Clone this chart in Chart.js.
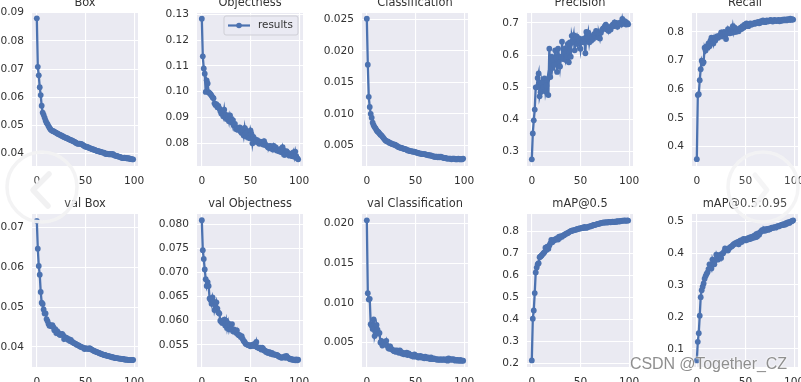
<!DOCTYPE html>
<html>
<head>
<meta charset="utf-8">
<title>results</title>
<script src="https://cdn.jsdelivr.net/npm/chart.js@4"></script>
<style>
    html, body { margin: 0; padding: 0; background: #fff; overflow: hidden; width: 801px; height: 382px; }
    canvas { position: absolute; filter: blur(0.45px); }
    #marks { position: absolute; left: 0; top: 0; }
    #credit {
        position: absolute; left: 630px; top: 355px; white-space: nowrap;
        font: 16px "Liberation Sans", sans-serif; letter-spacing: -0.1px; color: #8f8f8f;
        text-shadow: 0 0 2px #fff, 0 0 2px #fff;
    }
</style>
</head>
<body>
<svg id="marks" width="801" height="382">
    <circle cx="42" cy="187" r="35" fill="rgba(255,255,255,0.12)" stroke="rgba(242,242,243,0.92)" stroke-width="3.5"/>
    <polyline points="49,174 33,190 48,206" fill="none" stroke="rgba(240,240,241,0.95)" stroke-width="5.5" stroke-linecap="round" stroke-linejoin="round"/>
    <circle cx="763" cy="187" r="35" fill="rgba(255,255,255,0.12)" stroke="rgba(243,243,244,0.9)" stroke-width="3.5"/>
    <polyline points="755,175 767,190 755,205" fill="none" stroke="rgba(243,243,244,0.85)" stroke-width="5" stroke-linecap="round" stroke-linejoin="round"/>
</svg>
<div id="credit">CSDN @Together_CZ</div>

<script>
const epochs = Array.from({ length: 100 }, (_, i) => i);
const xTicks = [0, 50, 100];

const box = [
    .0880,.0708,.0678,.0636,.0608,.0570,.0546,.0538,.0528,.0518,
    .0510,.0505,.0498,.0492,.0487,.0483,.0481,.0480,.0478,.0476,
    .0474,.0472,.0470,.0468,.0467,.0465,.0463,.0461,.0459,.0458,
    .0456,.0455,.0453,.0451,.0450,.0448,.0447,.0445,.0443,.0442,
    .0439,.0437,.0435,.0435,.0436,.0435,.0434,.0432,.0429,.0427,
    .0425,.0425,.0423,.0422,.0420,.0419,.0418,.0416,.0415,.0414,
    .0413,.0411,.0410,.0409,.0408,.0407,.0406,.0405,.0404,.0404,
    .0401,.0399,.0400,.0399,.0398,.0398,.0399,.0397,.0399,.0396,
    .0394,.0393,.0392,.0391,.0390,.0389,.0388,.0386,.0385,.0384,
    .0386,.0384,.0385,.0383,.0384,.0383,.0381,.0382,.0380,.0380
];
const objectness = [
    .1283,.1137,.1090,.1070,.0999,.1044,.1032,.0998,.0994,.0990,
    .0985,.0978,.0975,.0955,.0948,.0952,.0940,.0945,.0935,.0925,
    .0915,.0920,.0905,.0930,.0900,.0910,.0893,.0905,.0885,.0908,
    .0895,.0880,.0890,.0870,.0875,.0855,.0860,.0852,.0858,.0862,
    .0845,.0840,.0850,.0830,.0860,.0835,.0825,.0845,.0828,.0820,
    .0850,.0835,.0800,.0825,.0805,.0815,.0808,.0812,.0803,.0798,
    .0806,.0800,.0805,.0795,.0808,.0798,.0792,.0790,.0785,.0782,
    .0790,.0780,.0788,.0776,.0790,.0778,.0784,.0772,.0775,.0770,
    .0768,.0778,.0765,.0785,.0772,.0755,.0762,.0770,.0765,.0758,
    .0752,.0760,.0755,.0750,.0765,.0748,.0768,.0750,.0742,.0738
];
const classification = [
    .0251,.0178,.0127,.0111,.0100,.0094,.0086,.0082,.0079,.0077,
    .0074,.0072,.0071,.0069,.0067,.0066,.0064,.0062,.0060,.0058,
    .0057,.0056,.0056,.0054,.0054,.0053,.0052,.0052,.0051,.0051,
    .0050,.0049,.0048,.0047,.0047,.0046,.0046,.0045,.0045,.0044,
    .0044,.0043,.0042,.0042,.0041,.0041,.0041,.0040,.0040,.0040,
    .0039,.0039,.0038,.0038,.0037,.0037,.0037,.0036,.0036,.0036,
    .0036,.0035,.0035,.0035,.0034,.0034,.0034,.0033,.0033,.0032,
    .0032,.0032,.0032,.0031,.0032,.0031,.0032,.0031,.0031,.0030,
    .0030,.0030,.0029,.0029,.0029,.0029,.0029,.0028,.0029,.0029,
    .0029,.0028,.0028,.0028,.0029,.0028,.0028,.0028,.0028,.0029
];
const precision = [
    .2762,.3567,.3975,.4310,.5000,.5000,.5290,.5430,.4720,.4850,
    .5150,.4950,.5000,.5280,.4870,.5050,.5250,.4760,.6200,.5320,
    .5950,.5600,.5850,.5700,.6150,.5900,.5480,.6200,.5950,.5650,
    .5950,.6420,.5880,.6100,.6200,.5850,.5950,.6350,.5780,.6400,
    .5950,.6600,.6450,.6620,.6150,.6500,.6580,.6350,.6530,.6450,
    .6200,.6500,.6450,.6400,.6520,.6060,.6720,.6520,.6700,.6400,
    .6600,.6450,.6550,.6500,.6650,.6600,.6750,.6700,.6550,.6650,
    .6520,.6700,.6780,.6820,.6850,.6900,.6950,.6800,.6880,.6750,
    .6850,.6800,.6900,.6950,.6900,.7020,.6950,.7000,.6880,.6950,
    .6980,.7020,.6950,.7130,.7000,.6980,.7050,.6950,.7000,.6960
];
const recall = [
    .3566,.5800,.5830,.6320,.6700,.7000,.6900,.6950,.7450,.7350,
    .7500,.7450,.7600,.7500,.7700,.7800,.7750,.7600,.7800,.7700,
    .7780,.7850,.7800,.7850,.7900,.7980,.7850,.7950,.8000,.7950,
    .7750,.7950,.8100,.8000,.7950,.8050,.7980,.8200,.8000,.8150,
    .8000,.8050,.8100,.8020,.8100,.8150,.8100,.8200,.8150,.8250,
    .8200,.8300,.8250,.8200,.8280,.8300,.8250,.8280,.8300,.8280,
    .8320,.8300,.8320,.8350,.8300,.8320,.8380,.8350,.8400,.8380,
    .8340,.8360,.8400,.8360,.8380,.8400,.8420,.8380,.8360,.8400,
    .8420,.8390,.8380,.8400,.8420,.8370,.8410,.8390,.8430,.8400,
    .8440,.8420,.8400,.8450,.8430,.8420,.8460,.8420,.8450,.8430
];
const valBox = [
    .0716,.0646,.0603,.0581,.0538,.0511,.0508,.0494,.0484,.0484,
    .0470,.0465,.0458,.0453,.0455,.0452,.0455,.0450,.0442,.0445,
    .0435,.0440,.0436,.0432,.0430,.0432,.0433,.0430,.0420,.0425,
    .0423,.0422,.0418,.0420,.0415,.0418,.0413,.0412,.0410,.0409,
    .0408,.0406,.0405,.0404,.0402,.0401,.0400,.0399,.0398,.0395,
    .0397,.0396,.0396,.0395,.0397,.0396,.0394,.0393,.0391,.0390,
    .0389,.0388,.0387,.0386,.0385,.0384,.0383,.0382,.0381,.0380,
    .0380,.0379,.0378,.0378,.0377,.0376,.0376,.0375,.0374,.0374,
    .0373,.0372,.0372,.0372,.0371,.0371,.0371,.0370,.0370,.0370,
    .0369,.0368,.0369,.0368,.0368,.0367,.0367,.0368,.0367,.0368
];
const valObjectness = [
    .0808,.0746,.0728,.0706,.0686,.0672,.0680,.0672,.0646,.0643,
    .0635,.0648,.0640,.0622,.0630,.0638,.0625,.0617,.0615,.0600,
    .0598,.0595,.0598,.0602,.0590,.0600,.0585,.0595,.0582,.0590,
    .0582,.0593,.0578,.0582,.0578,.0575,.0580,.0572,.0570,.0570,
    .0566,.0568,.0562,.0558,.0556,.0552,.0551,.0550,.0549,.0549,
    .0547,.0550,.0548,.0548,.0552,.0547,.0556,.0545,.0544,.0543,
    .0544,.0540,.0544,.0542,.0538,.0538,.0535,.0536,.0533,.0535,
    .0534,.0531,.0533,.0530,.0530,.0530,.0529,.0529,.0528,.0526,
    .0525,.0524,.0523,.0524,.0524,.0526,.0523,.0527,.0524,.0523,
    .0521,.0520,.0521,.0519,.0519,.0519,.0518,.0520,.0518,.0519
];
const valClassification = [
    .0204,.0112,.0104,.0105,.0073,.0071,.0067,.0079,.0058,.0063,
    .0072,.0066,.0061,.0062,.0050,.0052,.0046,.0048,.0050,.0048,
    .0052,.0046,.0043,.0042,.0045,.0042,.0041,.0040,.0039,.0040,
    .0038,.0040,.0039,.0037,.0040,.0038,.0036,.0037,.0035,.0036,
    .0035,.0037,.0034,.0036,.0035,.0034,.0033,.0034,.0032,.0035,
    .0033,.0032,.0033,.0031,.0032,.0033,.0031,.0032,.0031,.0030,
    .0032,.0031,.0030,.0031,.0030,.0029,.0031,.0029,.0029,.0030,
    .0029,.0029,.0028,.0029,.0028,.0028,.0029,.0028,.0028,.0029,
    .0028,.0028,.0029,.0027,.0030,.0029,.0028,.0029,.0028,.0029,
    .0028,.0027,.0028,.0028,.0027,.0027,.0028,.0027,.0027,.0027
];
const map50 = [
    .2135,.4030,.4400,.5190,.6130,.6350,.6500,.6550,.6820,.6850,
    .6900,.6950,.7000,.7050,.7250,.7150,.7300,.7200,.7350,.7450,
    .7600,.7500,.7550,.7620,.7600,.7650,.7680,.7620,.7750,.7700,
    .7780,.7750,.7800,.7820,.7850,.7880,.7900,.7920,.7950,.7980,
    .8000,.8020,.8030,.8040,.8050,.8070,.8080,.8100,.8110,.8130,
    .8120,.8150,.8160,.8140,.8200,.8170,.8150,.8180,.8200,.8220,
    .8210,.8240,.8250,.8270,.8280,.8290,.8300,.8320,.8330,.8340,
    .8350,.8370,.8380,.8390,.8400,.8380,.8410,.8400,.8390,.8420,
    .8410,.8400,.8420,.8430,.8410,.8430,.8420,.8440,.8450,.8430,
    .8460,.8450,.8470,.8480,.8470,.8490,.8480,.8470,.8490,.8480
];
const map5095 = [
    .0636,.1220,.1490,.2040,.2620,.2840,.2950,.3050,.3200,.3280,
    .3350,.3400,.3500,.3650,.3600,.3520,.3800,.3700,.3650,.3780,
    .3950,.3850,.3800,.3900,.3950,.3850,.3980,.4000,.4050,.4150,
    .4100,.4120,.4080,.4150,.4180,.4200,.4220,.4250,.4280,.4300,
    .4320,.4300,.4350,.4280,.4380,.4400,.4350,.4420,.4450,.4430,
    .4400,.4450,.4420,.4480,.4440,.4500,.4460,.4520,.4480,.4550,
    .4500,.4600,.4520,.4620,.4580,.4650,.4680,.4720,.4700,.4750,
    .4700,.4720,.4760,.4730,.4770,.4750,.4780,.4800,.4790,.4810,
    .4820,.4800,.4830,.4850,.4840,.4860,.4870,.4880,.4900,.4880,
    .4920,.4900,.4950,.4930,.4970,.4950,.4980,.5000,.5010,.5030
];

const boxTicks = ['0.04', '0.05', '0.06', '0.07', '0.08', '0.09'];
const objectnessTicks = ['0.08', '0.09', '0.10', '0.11', '0.12', '0.13'];
const classificationTicks = ['0.005', '0.010', '0.015', '0.020', '0.025'];
const precisionTicks = ['0.3', '0.4', '0.5', '0.6', '0.7'];
const recallTicks = ['0.4', '0.5', '0.6', '0.7', '0.8'];
const valBoxTicks = ['0.04', '0.05', '0.06', '0.07'];
const valObjectnessTicks = ['0.055', '0.060', '0.065', '0.070', '0.075', '0.080'];
const valClassificationTicks = ['0.005', '0.010', '0.015', '0.020'];
const map50Ticks = ['0.2', '0.3', '0.4', '0.5', '0.6', '0.7', '0.8'];
const map5095Ticks = ['0.1', '0.2', '0.3', '0.4', '0.5'];

// title, values, tick labels, y range, plot left, plot top
const panels = [
    ['Box', box, boxTicks, 0.03564, 0.0899, 32, 13],
    ['Objectness', objectness, objectnessTicks, 0.0712, 0.1305, 197, 13],
    ['Classification', classification, classificationTicks, 0.00173, 0.0260, 362, 13],
    ['Precision', precision, precisionTicks, 0.2556, 0.731, 527, 13],
    ['Recall', recall, recallTicks, 0.3328, 0.866, 692, 13],
    ['val Box', valBox, valBoxTicks, 0.0350, 0.0733, 32, 214],
    ['val Objectness', valObjectness, valObjectnessTicks, 0.0504, 0.0821, 197, 214],
    ['val Classification', valClassification, valClassificationTicks, 0.0019, 0.0212, 362, 214],
    ['mAP@0.5', map50, map50Ticks, 0.1835, 0.878, 527, 214],
    ['mAP@0.5:0.95', map5095, map5095Ticks, 0.0429, 0.5229, 692, 214]
];

const LINE = '#4C72B0';
const TEXT = '#333333';
const FONT = '"DejaVu Sans"';
const PLOT_W = 106;
const PLOT_H = 153;
const Y_AXIS_W = 40;
const X_AXIS_H = 22;
const TITLE_H = 21;
const RIGHT_PAD = 12;

// seaborn style panel background
const panelBg = {
    id: 'panelBg',
    beforeDraw(chart) {
        const { ctx, chartArea: a } = chart;
        ctx.save();
        ctx.fillStyle = '#EAEAF2';
        ctx.fillRect(a.left, a.top, a.width, a.height);
        ctx.restore();
    }
};

// matplotlib style legend, line with a dot on it
const resultsLegend = {
    id: 'resultsLegend',
    afterDraw(chart) {
        const { ctx, chartArea: a } = chart;
        const left = a.left + 27;
        const top = a.top + 3;
        const midY = top + 9.5;
        ctx.save();
        ctx.beginPath();
        ctx.roundRect(left, top, 74, 19, 2);
        ctx.fillStyle = 'rgba(234,234,242,0.8)';
        ctx.fill();
        ctx.strokeStyle = '#cfcfd6';
        ctx.lineWidth = 1;
        ctx.stroke();
        ctx.beginPath();
        ctx.moveTo(left + 4, midY);
        ctx.lineTo(left + 26, midY);
        ctx.strokeStyle = LINE;
        ctx.lineWidth = 2.2;
        ctx.stroke();
        ctx.beginPath();
        ctx.arc(left + 15, midY, 2.8, 0, Math.PI * 2);
        ctx.fillStyle = LINE;
        ctx.fill();
        ctx.fillStyle = TEXT;
        ctx.font = '10.4px ' + FONT;
        ctx.textBaseline = 'middle';
        ctx.fillText(chart.data.datasets[0].label, left + 34, midY);
        ctx.restore();
    }
};

// stop the tick labels from shrinking the plot, the panel sizes are fixed
function fixAxis(scale) {
    scale.paddingLeft = scale.paddingRight = scale.paddingTop = scale.paddingBottom = 0;
    if (scale.isHorizontal()) {
        scale.height = X_AXIS_H;
    } else {
        scale.width = Y_AXIS_W;
    }
}

function drawPanel([title, values, tickLabels, yMin, yMax, plotLeft, plotTop], index) {
    const canvas = document.createElement('canvas');
    const width = Y_AXIS_W + PLOT_W + RIGHT_PAD;
    const height = TITLE_H + PLOT_H + X_AXIS_H;
    canvas.width = width;
    canvas.height = height;
    canvas.style.left = (plotLeft - Y_AXIS_W) + 'px';
    canvas.style.top = (plotTop - TITLE_H) + 'px';
    document.body.insertBefore(canvas, document.getElementById('marks'));

    new Chart(canvas, {
        type: 'line',
        data: {
            labels: epochs,
            datasets: [{
                label: 'results',
                data: values,
                borderColor: LINE,
                backgroundColor: LINE,
                borderWidth: 2.3,
                pointRadius: 2.9,
                pointBorderWidth: 0,
                tension: 0
            }]
        },
        options: {
            responsive: false,
            animation: false,
            layout: { autoPadding: false, padding: { right: RIGHT_PAD } },
            plugins: {
                legend: { display: false },
                tooltip: { enabled: false },
                title: {
                    display: true,
                    fullSize: false,
                    text: title,
                    color: TEXT,
                    font: { family: FONT, size: 11.4, weight: 'normal', lineHeight: '12px' },
                    padding: { top: 5, bottom: 4 }
                }
            },
            scales: {
                x: {
                    type: 'linear',
                    min: -4.95,
                    max: 103.95,
                    afterBuildTicks: s => { s.ticks = xTicks.map(v => ({ value: v })); },
                    afterFit: fixAxis,
                    border: { display: false },
                    grid: { color: '#fff', lineWidth: 1.1, drawTicks: false },
                    ticks: {
                        color: TEXT,
                        padding: 9,
                        maxRotation: 0,
                        font: { family: FONT, size: 10.6 },
                        callback: v => String(v)
                    }
                },
                y: {
                    min: yMin,
                    max: yMax,
                    afterBuildTicks: s => { s.ticks = tickLabels.map(t => ({ value: parseFloat(t) })); },
                    afterFit: fixAxis,
                    border: { display: false },
                    grid: { color: '#fff', lineWidth: 1.1, drawTicks: false },
                    ticks: {
                        color: TEXT,
                        padding: 8,
                        font: { family: FONT, size: 10.6 },
                        callback: v => tickLabels.find(t => parseFloat(t) === v)
                    }
                }
            }
        },
        plugins: index === 1 ? [panelBg, resultsLegend] : [panelBg]
    });
}

panels.forEach(drawPanel);
</script>
</body>
</html>
